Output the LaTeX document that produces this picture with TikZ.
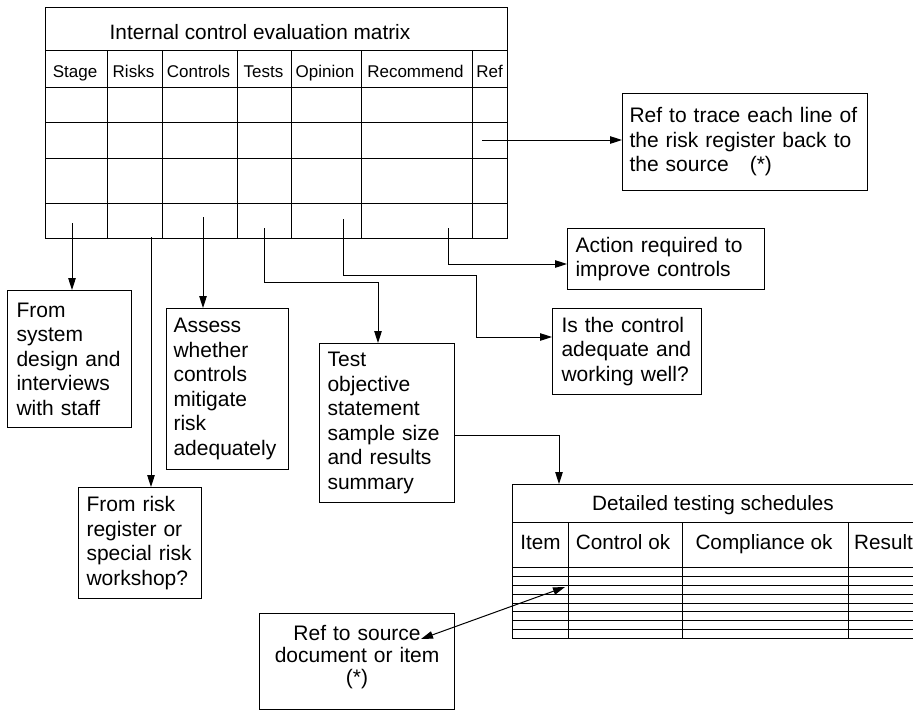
\documentclass[tikz,border=0pt]{standalone}
\usepackage{fontspec}
\setmainfont{Liberation Sans}
\usetikzlibrary{arrows.meta}
\newcommand\boxfont{\fontsize{21}{24.5}\selectfont}
\newcommand\srcfont{\fontsize{21}{22}\selectfont}
\newcommand\headfont{\fontsize{17}{20}\selectfont}
\newcommand\titlefont{\fontsize{20.8}{24}\selectfont}
\newcommand\schedfont{\fontsize{20.7}{24}\selectfont}

\begin{document}
\begin{tikzpicture}[x=1pt,y=-1pt,
  grid/.style={line width=1pt},
  fine/.style={line width=0.8pt},
  note/.style={draw, line width=1.1pt, rectangle, align=left, inner ysep=0pt,
    anchor=north west, font=\boxfont},
  tip/.tip={Triangle[length=12pt,width=7.5pt]},
  arr/.style={line width=1pt, -tip},
  arrboth/.style={line width=1pt, tip-tip},
  cell/.style={inner sep=0pt, anchor=base, font=\headfont},
  schedcell/.style={inner sep=0pt, anchor=base, font=\schedfont}]
\useasboundingbox (0,0) rectangle (913,710);

% ---- internal control evaluation matrix ----
\draw[grid] (45,7) rectangle (507,238);
\foreach \y in {50,87,122,158,203} \draw[grid] (45,\y) -- (507,\y);
\foreach \x in {107,162,237,291,361,472} \draw[grid] (\x,50) -- (\x,238);
\node[font=\titlefont, anchor=base, inner sep=0pt] (mtitle) at (260,39) {Internal control evaluation matrix};
\node[cell] (hStage) at (75,77) {Stage};
\node[cell] (hRisks) at (133.5,77) {Risks};
\node[cell] (hCtrl) at (198.5,77) {Controls};
\node[cell] (hTests) at (263.5,77) {Tests};
\node[cell] (hOpin) at (325,77) {Opinion};
\node[cell] (hRec) at (415.5,77) {Recommend};
\node[cell] (hRef) at (489.5,77) {Ref};

% ---- detailed testing schedules (runs off the right edge) ----
\draw[grid] (913,484) -- (512,484) -- (512,638) -- (913,638);
\draw[grid] (512,522) -- (913,522);
\draw[grid] (512,567) -- (913,567);
\foreach \y in {576,585,594,603,611,620,629} \draw[fine] (512,\y) -- (913,\y);
\foreach \x in {568,682,848} \draw[grid] (\x,522) -- (\x,638);
\node[schedcell] (stitle) at (713,510) {Detailed testing schedules};
\node[schedcell] (sItem) at (540.5,549) {Item};
\node[schedcell] (sCtrlOk) at (623,549) {Control ok};
\node[schedcell] (sCompl) at (764,549) {Compliance ok};
\node[schedcell, anchor=base west] (sResult) at (854,549) {Result};

% ---- explanatory boxes ----
\node[note, text width=231pt, inner xsep=7pt, minimum height=97pt] (refbox) at (622,93)
  {Ref to trace each line of\\the risk register back to\\the source\quad(*)};
\node[note, text width=181pt, inner xsep=8pt, minimum height=61pt] (action) at (567,228)
  {Action required to\\improve controls};
\node[note, text width=131pt, inner xsep=9pt, minimum height=86pt] (adequate) at (552,308)
  {Is the control\\adequate and\\working well?};
\node[note, text width=106pt, inner xsep=9pt, minimum height=137pt] (stagebox) at (7,290)
  {From\\system\\design and\\interviews\\with staff};
\node[note, text width=108pt, inner xsep=7pt, minimum height=161pt] (assess) at (166,308)
  {Assess\\whether\\controls\\mitigate\\risk\\adequately};
\node[note, text width=119pt, inner xsep=8pt, minimum height=159pt] (testbox) at (319,343)
  {Test\\objective\\statement\\sample size\\and results\\summary};
\node[note, text width=107pt, inner xsep=8pt, minimum height=111pt] (riskbox) at (78,487)
  {From risk\\register or\\special risk\\workshop?};
\node[note, align=center, font=\srcfont, text width=181pt, inner xsep=7pt, minimum height=96pt] (srcbox) at (259,613)
  {Ref to source\\document or item\\(*)\rule[-14pt]{0pt}{0pt}};

% ---- connectors ----
\coordinate (sStage) at (72,223);
\coordinate (sRisk) at (151,237);
\coordinate (sCtrl) at (203,217);
\coordinate (sTest) at (264,228);
\coordinate (sOpin) at (343,219);
\coordinate (sRec) at (448,228);
\coordinate (sRef) at (482,140);

\draw[arr] (sStage) -- (sStage |- stagebox.north);
\draw[arr] (sRisk) -- (sRisk |- riskbox.north);
\draw[arr] (sCtrl) -- (sCtrl |- assess.north);

\coordinate (tBend) at (264,282);
\coordinate (tDrop) at (378,282);
\draw[arr] (sTest) -- (tBend) -- (tDrop) -- (tDrop |- testbox.north);

\coordinate (oBend) at (343,275);
\coordinate (oDrop) at (476,337);
\draw[arr] (sOpin) -- (oBend) -| (oDrop) -- (oDrop -| adequate.west);

\coordinate (rBend) at (448,264);
\draw[arr] (sRec) -- (rBend) -- (rBend -| action.west);

\draw[arr] (sRef) -- (sRef -| refbox.west);

\coordinate (tLevel) at (0,435);
\coordinate (schedIn) at (559,484);
\draw[arr] (testbox.east |- tLevel) -| (schedIn);

\coordinate (srcTip) at (421,639);
\coordinate (schedTip) at (565,587);
\draw[arrboth] (srcTip) -- (schedTip);
\end{tikzpicture}
\end{document}
